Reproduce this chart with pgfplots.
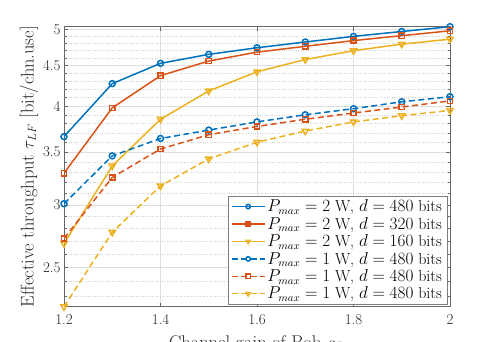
\documentclass[border=0pt]{standalone}
\usepackage{pgfplots}
\pgfplotsset{compat=1.18}
\definecolor{mblue}{rgb}{0,0.447,0.741}
\definecolor{mred}{rgb}{0.85,0.325,0.098}
\definecolor{myel}{rgb}{0.929,0.694,0.125}
\definecolor{axgray}{rgb}{0.15,0.15,0.15}
\begin{document}
\begin{tikzpicture}
\begin{axis}[
  scale only axis,
  width=386bp, height=280bp,
  ymode=log,
  xmin=1.2, xmax=2,
  ymin=2.23, ymax=5.04,
  xtick={1.2,1.4,1.6,1.8,2},
  xticklabels={1.2,1.4,1.6,1.8,2},
  ytick={2.5,3,3.5,4,4.5,5},
  yticklabels={2.5,3,3.5,4,4.5,5},
  minor ytick={2.3,2.4,2.6,2.7,2.8,2.9,3.1,3.2,3.3,3.4,3.6,3.7,3.8,3.9,4.1,4.2,4.3,4.4,4.6,4.7,4.8,4.9},
  grid=major,
  ymajorgrids, xmajorgrids, yminorgrids,
  major grid style={color=black!13, line width=0.5bp},
  minor grid style={color=black!18, dotted, line width=0.5bp},
  tick align=inside,
  major tick length=4bp,
  minor tick length=2.5bp,
  axis line style={color=axgray!70, line width=0.6bp},
  every tick/.style={color=axgray!70, line width=0.5bp},
  tick label style={font=\fontsize{15}{16}\selectfont, color=axgray},
  xticklabel style={yshift=-4bp},
  label style={font=\fontsize{18.5}{20}\selectfont, color=axgray},
  xlabel={Channel gain of Bob $g_B$},
  xlabel style={yshift=-4bp},
  ylabel={Effective throughput $\tau_{LF}$ [bit/chn.use]},
  ylabel style={yshift=-2bp},
  legend cell align=left,
  legend style={at={(1,0)}, anchor=south east, xshift=-3bp, yshift=2.5bp,
    font=\fontsize{16}{18}\selectfont, draw=axgray!60, line width=0.5bp,
    row sep=0bp, inner sep=1.5bp, inner xsep=3bp},
  legend image code/.code={%
    \draw[mark repeat=2, mark phase=2, #1, mark size=2.2bp, line width=1.5bp]
      plot coordinates {(0bp,0bp) (16.5bp,0bp) (33bp,0bp)};},
  every axis plot/.append style={line width=1.5bp, mark size=3bp},
  name=ax,
]
\addplot[color=mblue, mark=o, mark options={solid}] coordinates {
(1.2,3.66) (1.3,4.27) (1.4,4.53) (1.5,4.65) (1.6,4.74) (1.7,4.82) (1.8,4.90) (1.9,4.97) (2.0,5.04)};
\addlegendentry{$P_{max} = 2$ W, $d = 480$ bits}
\addplot[color=mred, mark=square, mark size=2.6bp, mark options={solid}] coordinates {
(1.2,3.29) (1.3,3.98) (1.4,4.37) (1.5,4.56) (1.6,4.68) (1.7,4.76) (1.8,4.84) (1.9,4.91) (2.0,4.98)};
\addlegendentry{$P_{max} = 2$ W, $d = 320$ bits}
\addplot[color=myel, mark=triangle, mark size=3.5bp, mark options={solid, rotate=180}] coordinates {
(1.2,2.68) (1.3,3.36) (1.4,3.85) (1.5,4.18) (1.6,4.42) (1.7,4.58) (1.8,4.70) (1.9,4.79) (2.0,4.86)};
\addlegendentry{$P_{max} = 2$ W, $d = 160$ bits}
\addplot[color=mblue, dash pattern=on 6bp off 3.5bp, mark=o, mark options={solid}] coordinates {
(1.2,3.01) (1.3,3.46) (1.4,3.64) (1.5,3.73) (1.6,3.82) (1.7,3.90) (1.8,3.97) (1.9,4.05) (2.0,4.11)};
\addlegendentry{$P_{max} = 1$ W, $d = 480$ bits}
\addplot[color=mred, dash pattern=on 6bp off 3.5bp, mark=square, mark size=2.6bp, mark options={solid}] coordinates {
(1.2,2.72) (1.3,3.25) (1.4,3.53) (1.5,3.68) (1.6,3.77) (1.7,3.85) (1.8,3.92) (1.9,3.99) (2.0,4.06)};
\addlegendentry{$P_{max} = 1$ W, $d = 480$ bits}
\addplot[color=myel, dash pattern=on 6bp off 3.5bp, mark=triangle, mark size=3.5bp, mark options={solid, rotate=180}] coordinates {
(1.2,2.23) (1.3,2.77) (1.4,3.17) (1.5,3.43) (1.6,3.60) (1.7,3.72) (1.8,3.82) (1.9,3.89) (2.0,3.95)};
\addlegendentry{$P_{max} = 1$ W, $d = 480$ bits}
\coordinate (bl) at (rel axis cs:0,0);
\coordinate (tr) at (rel axis cs:1,1);
\end{axis}
\pgfresetboundingbox
\path[use as bounding box] ([xshift=-64bp,yshift=-34.3bp]bl) rectangle ([xshift=47bp,yshift=26.7bp]tr);
\end{tikzpicture}
\end{document}
